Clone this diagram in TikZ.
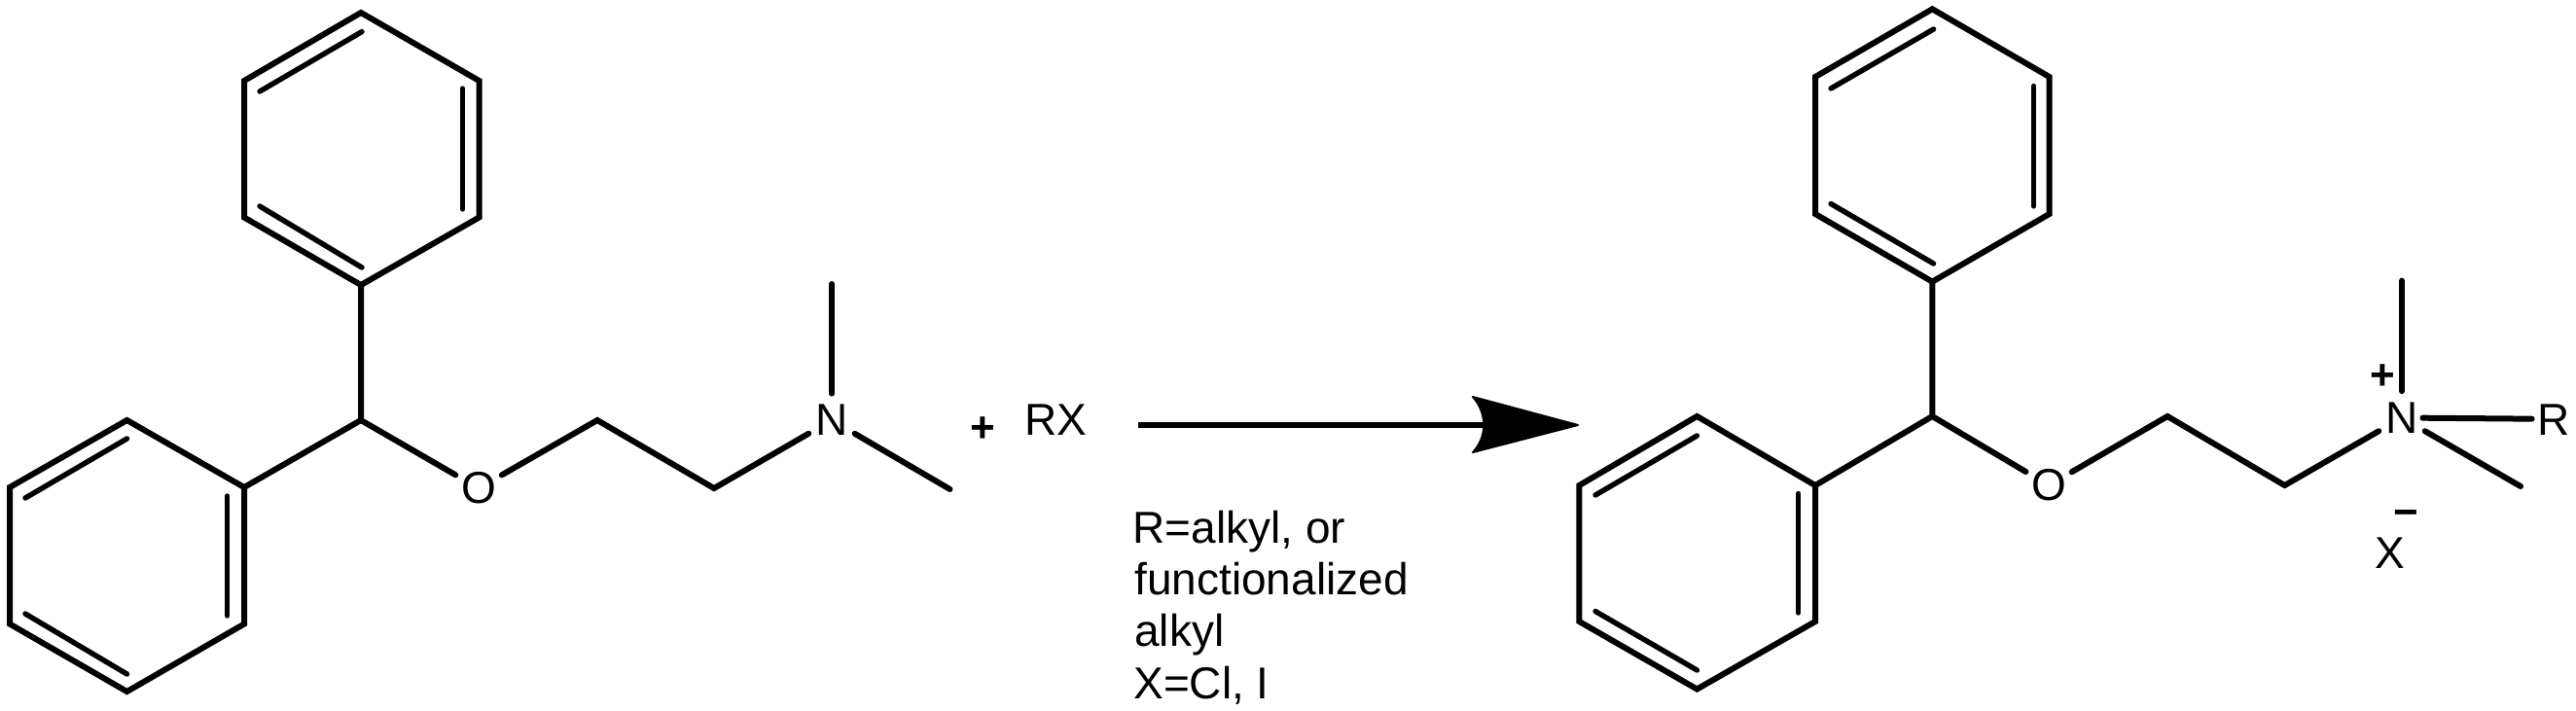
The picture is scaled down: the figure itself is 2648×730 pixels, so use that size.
\documentclass[tikz,border=0pt]{standalone}
\usepackage{fontspec}
\setmainfont{Liberation Sans}
\tikzset{
  bond/.style={line width=3pt,line cap=round,line join=miter,black},
  inner bond/.style={line width=2.7pt,line cap=round,black},
  atom/.style={circle,inner sep=0pt,minimum size=27pt,font=\fontsize{23}{26.5}\selectfont},
  label text/.style={inner sep=0pt,font=\fontsize{23}{26.5}\selectfont},
  charge/.style={inner sep=0pt,font=\bfseries\fontsize{22}{24}\selectfont},
}
\begin{document}
\begin{tikzpicture}[x=0.5pt,y=-0.5pt]
\useasboundingbox (0,0) rectangle (2648,730);
\fill[white] (0,0) rectangle (2648,730);

% ---------- left molecule ----------
\coordinate (a1) at (371,13);
\coordinate (a2) at (492.5,83);
\coordinate (a3) at (492.5,223.5);
\coordinate (a4) at (371,293);
\coordinate (a5) at (251,223.5);
\coordinate (a6) at (251,83);
\coordinate (ach) at (371,432);
\coordinate (b1) at (251,501);
\coordinate (b2) at (251,641.5);
\coordinate (b3) at (130.5,711);
\coordinate (b4) at (10,641.5);
\coordinate (b5) at (10,501);
\coordinate (b6) at (130.5,432);
\coordinate (ac1) at (614,432);
\coordinate (ac2) at (734,502);
\coordinate (ame1) at (855,292);
\coordinate (ame2) at (976.5,503);
\node[atom] (aO) at (492,502) {O};
\node[atom] (aN) at (855,432) {N};

\draw[bond] (a1) -- (a2) -- (a3) -- (a4) -- (a5) -- (a6) -- cycle;
\draw[inner bond] (372,32.6) -- (267,94);
\draw[inner bond] (475.6,91) -- (475.6,215);
\draw[inner bond] (267,212) -- (372,275);
\draw[bond] (a4) -- (ach) -- (b1);
\draw[bond] (b1) -- (b2) -- (b3) -- (b4) -- (b5) -- (b6) -- cycle;
\draw[inner bond] (130.5,451) -- (26,512);
\draw[inner bond] (233.6,510) -- (233.6,633);
\draw[inner bond] (26,631) -- (130.5,693);
\draw[bond] (ach) -- (aO);
\draw[bond] (aO) -- (ac1) -- (ac2) -- (aN);
\draw[bond] (aN) -- (ame1);
\draw[bond] (aN) -- (ame2);

\node[charge] (plus1) at (1010,442) {+};
\node[label text,anchor=base west] (rx) at (1053,447) {RX};

% ---------- reaction arrow ----------
\coordinate (arrS) at (1170,437);
\coordinate (arrN) at (1530,437);
\coordinate (arrT) at (1622,437);
\draw[line width=2.85pt] (arrS) -- (arrN);
\fill[black,draw=black,line width=1pt,line join=round]
  (arrT) -- (1514,408) .. controls (1529,425) and (1529,449) .. (1514,465) -- cycle;

\node[label text,anchor=base west] (l1) at (1164,558) {R=alkyl, or};
\node[label text,anchor=base west] (l2) at (1166,611) {functionalized};
\node[label text,anchor=base west] (l3) at (1166,664) {alkyl};
\node[label text,anchor=base west] (l4) at (1165,718) {X=Cl, I};

% ---------- right molecule ----------
\coordinate (c1) at (1986.3,9.3);
\coordinate (c2) at (2106.6,79);
\coordinate (c3) at (2106.6,220);
\coordinate (c4) at (1986.3,289.6);
\coordinate (c5) at (1866,220);
\coordinate (c6) at (1866,79);
\coordinate (cch) at (1986.3,428);
\coordinate (d1) at (1866,499);
\coordinate (d2) at (1866,639);
\coordinate (d3) at (1744.4,708.5);
\coordinate (d4) at (1623.4,639);
\coordinate (d5) at (1623.4,499);
\coordinate (d6) at (1744.4,428);
\coordinate (cc1) at (2228,428);
\coordinate (cc2) at (2348.5,499);
\coordinate (cme1) at (2469,288.6);
\coordinate (cme2) at (2591,500);
\node[atom] (cO) at (2106,499) {O};
\node[atom] (cN) at (2469,429.5) {N};
\node[atom,minimum size=40pt] (cR) at (2643,431) {};
\node[label text,anchor=base west] (cRt) at (2608,447) {R};

\draw[bond] (c1) -- (c2) -- (c3) -- (c4) -- (c5) -- (c6) -- cycle;
\draw[inner bond] (1987.6,30) -- (1882,91);
\draw[inner bond] (2090.6,88.5) -- (2090.6,212);
\draw[inner bond] (1882,209.5) -- (1987.6,271);
\draw[bond] (c4) -- (cch) -- (d1);
\draw[bond] (d1) -- (d2) -- (d3) -- (d4) -- (d5) -- (d6) -- cycle;
\draw[inner bond] (1744.4,448) -- (1640,509);
\draw[inner bond] (1848.6,507.5) -- (1848.6,630);
\draw[inner bond] (1640,628.5) -- (1744.4,689);
\draw[bond] (cch) -- (cO);
\draw[bond] (cO) -- (cc1) -- (cc2) -- (cN);
\draw[bond] (cN) -- (cme1);
\draw[bond] (cN) -- (cme2);
\draw[bond,shorten <=-3pt] (cN) -- (cR);

\node[charge] (plus2) at (2449,388) {+};
\node[charge] (minus) at (2473,533) {−};
\node[label text,anchor=base] (xion) at (2456.5,584) {X};
\end{tikzpicture}
\end{document}
